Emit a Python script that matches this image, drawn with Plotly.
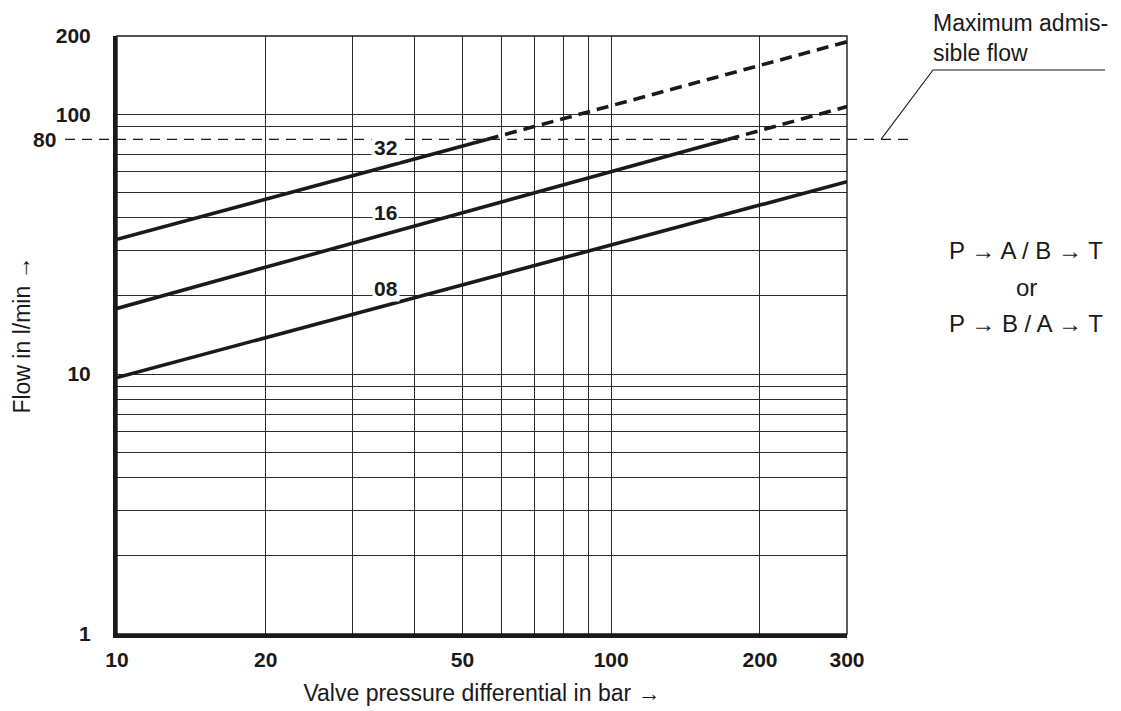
import math
import plotly.graph_objects as go

# ---------------- data ----------------
X_RANGE = [10, 300]          # valve pressure differential, bar
Y_RANGE = [1, 200]           # flow, l/min
X_TICKS = [10, 20, 50, 100, 200, 300]
Y_TICKS = [1, 10, 100, 200]
X_MINOR_GRID = [30, 40, 60, 70, 80, 90]
Y_MINOR_GRID = [2, 3, 4, 5, 6, 7, 8, 9, 20, 30, 40, 50, 60, 70, 90]
MAX_FLOW = 80                # maximum admissible flow

dp_08 = [10, 100, 300]
q_08 = [9.7, 31.4, 55]
dp_16 = [10, 100, 172, 300]
q_16 = [17.9, 60, 80, 107]
dp_32 = [10, 56, 100, 300]
q_32 = [33, 80, 108, 190]

series_names = ["08", "16", "32"]
series_dp = [dp_08, dp_16, dp_32]
series_q = [q_08, q_16, q_32]
label_dp = 35
label_q = [21.4, 41.9, 74.8]

side_text = ["P \u2192 A / B \u2192 T", "or", "P \u2192 B / A \u2192 T"]

# ---------------- layout helpers ----------------
W_TOT, H_TOT = 1121, 711
L, R, T, B = 117, 274, 36, 77
PW = W_TOT - L - R
PH = H_TOT - T - B


def pxx(px):
    return (px - L) / PW


def pxy(py):
    return (H_TOT - B - py) / PH


INK = "#1a1a1a"
GRID = "#2b2b2b"
SANS = "Liberation Sans, Arial, Helvetica, sans-serif"
tick_font = dict(family=SANS, size=21, color=INK, weight="bold")
text_font = dict(family=SANS, size=23, color=INK)

fig = go.Figure()

for name, dp, q in zip(series_names, series_dp, series_q):
    solid_x = [x for x, y in zip(dp, q) if y <= MAX_FLOW]
    solid_y = [y for y in q if y <= MAX_FLOW]
    dash_x = [x for x, y in zip(dp, q) if y >= MAX_FLOW]
    dash_y = [y for y in q if y >= MAX_FLOW]
    fig.add_trace(go.Scatter(x=solid_x, y=solid_y, mode="lines", name=name,
                             line=dict(color=INK, width=3.6), showlegend=False))
    if len(dash_x) > 1:
        fig.add_trace(go.Scatter(x=dash_x, y=dash_y, mode="lines", name=name + " (above max)",
                                 line=dict(color=INK, width=3.6, dash="12px,7px"),
                                 showlegend=False))

fig.update_layout(
    width=W_TOT, height=H_TOT,
    margin=dict(l=L, r=R, t=T, b=B, autoexpand=False),
    paper_bgcolor="white", plot_bgcolor="white",
    showlegend=False,
    xaxis=dict(
        type="log", range=[math.log10(X_RANGE[0]), math.log10(X_RANGE[1])],
        tickvals=X_TICKS, ticktext=[str(v) for v in X_TICKS],
        tickfont=tick_font, ticks="", ticklabelstandoff=4, automargin=False,
        showgrid=True, gridcolor=GRID, gridwidth=1.3,
        minor=dict(tickvals=X_MINOR_GRID, showgrid=True, gridcolor=GRID, gridwidth=1.3, ticks=""),
        showline=True, linewidth=4, linecolor=INK, zeroline=False,
        title=dict(text="Valve pressure differential in bar \u2192", font=text_font, standoff=16),
    ),
    yaxis=dict(
        type="log", range=[math.log10(Y_RANGE[0]), math.log10(Y_RANGE[1])],
        tickvals=Y_TICKS, ticktext=[str(v) for v in Y_TICKS],
        tickfont=tick_font, ticks="", ticklabelstandoff=18, automargin=False,
        showgrid=True, gridcolor=GRID, gridwidth=1.3,
        minor=dict(tickvals=Y_MINOR_GRID, showgrid=True, gridcolor=GRID, gridwidth=1.3, ticks=""),
        showline=True, linewidth=4, linecolor=INK, zeroline=False,
        title=dict(text="Flow in l/min \u2192", font=text_font, standoff=20),
    ),
)

# thin top / right frame
fig.add_shape(type="rect", xref="paper", yref="paper", x0=0, y0=0, x1=1, y1=1,
              line=dict(color=INK, width=1.4), layer="above")

# maximum admissible flow line (extends beyond the plot)
max_y_paper = (math.log10(MAX_FLOW) - math.log10(Y_RANGE[0])) / (math.log10(Y_RANGE[1]) - math.log10(Y_RANGE[0]))
fig.add_shape(type="line", xref="paper", yref="paper", x0=pxx(65), x1=pxx(910),
              y0=max_y_paper, y1=max_y_paper,
              line=dict(color=INK, width=1.1, dash="10px,7px"), layer="above")

# callout leader line
fig.add_shape(type="path", xref="paper", yref="paper",
              path=f"M {pxx(881)},{max_y_paper} L {pxx(933)},{pxy(70)} L {pxx(1105)},{pxy(70)}",
              line=dict(color=INK, width=1.1), layer="above")

fig.add_annotation(xref="paper", yref="paper", x=pxx(931), y=pxy(8), xanchor="left", yanchor="top",
                   text="Maximum admis-<br>sible flow", showarrow=False, align="left", font=text_font)

# "80" label on the max-flow line
fig.add_annotation(xref="paper", yref="y", x=pxx(58), y=math.log10(MAX_FLOW), xanchor="right",
                   yanchor="middle", text=str(MAX_FLOW), showarrow=False, font=tick_font)

# nominal-size labels
for name, q, pad in zip(series_names, label_q, [1, 1, 2]):
    fig.add_annotation(xref="x", yref="y", x=math.log10(label_dp), y=math.log10(q),
                       text=name, showarrow=False, font=tick_font, bgcolor="white",
                       borderpad=pad, xanchor="center", yanchor="middle")

# flow direction text
for txt, ypx in zip(side_text, [250.7, 287.7, 323.7]):
    fig.add_annotation(xref="paper", yref="paper", x=pxx(1026), y=pxy(ypx), xanchor="center",
                       yanchor="middle", text=txt, showarrow=False,
                       font=dict(family=SANS, size=24, color=INK))

fig.write_html("out.html", config={"displayModeBar": False},
               post_script="document.body.style.margin='0px';")
